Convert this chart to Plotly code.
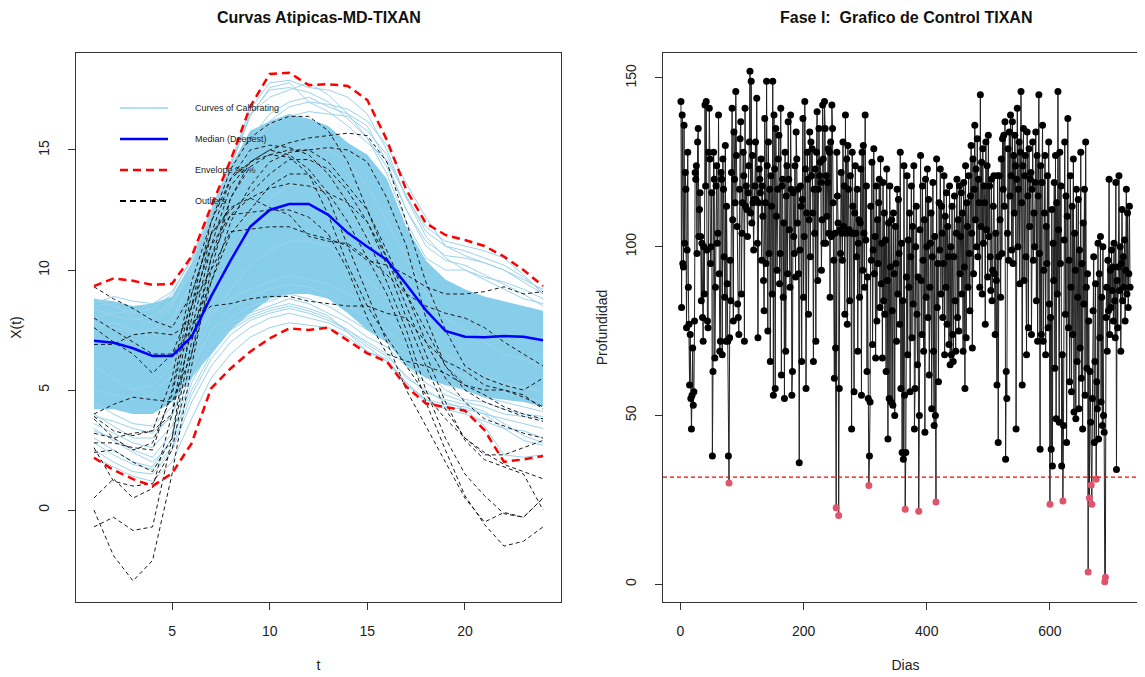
import numpy as np
import plotly.graph_objects as go

# ---------------- left panel: functional outliers ----------------
t = list(range(1, 25))

median_curve = [7.05, 6.97, 6.74, 6.42, 6.42, 7.22, 8.9, 10.4, 11.8, 12.5, 12.75, 12.75,
                12.3, 11.55, 10.97, 10.42, 9.4, 8.33, 7.46, 7.22, 7.2, 7.25, 7.22, 7.07]
env_upper = [9.33, 9.65, 9.55, 9.38, 9.43, 10.56, 12.64, 14.58, 16.8, 18.17, 18.22, 17.7,
             17.74, 17.67, 17.08, 15.42, 13.33, 11.95, 11.46, 11.25, 11.0, 10.56, 10.0, 9.33]
env_lower = [2.18, 1.67, 1.29, 1.0, 1.53, 2.78, 5.07, 5.9, 6.6, 7.15, 7.57, 7.5,
             7.6, 7.08, 6.53, 6.18, 5.14, 4.44, 4.28, 4.14, 3.33, 2.01, 2.11, 2.25]

# dense core of the calibration curves
core_upper = [8.8, 8.7, 8.5, 8.6, 8.9, 10.3, 12.4, 14.3, 15.8, 16.2, 16.5, 16.3,
              16.0, 15.3, 14.8, 13.8, 11.8, 10.4, 9.6, 9.2, 8.9, 8.7, 8.5, 8.3]
core_lower = [4.2, 4.2, 4.0, 4.0, 4.5, 5.5, 6.5, 7.5, 8.2, 8.8, 9.0, 9.0,
              8.8, 8.2, 7.5, 7.0, 6.0, 5.5, 5.2, 5.0, 4.7, 4.6, 4.5, 4.3]

calib_curves = [
    [8.8, 8.5, 8.2, 8.4, 9.0, 10.5, 12.5, 14.5, 16.7, 17.8, 17.9, 17.6, 17.5, 17.2, 16.5, 15.0, 13.0, 11.8, 11.2, 11.0, 10.8, 10.5, 9.8, 9.0],
    [8.5, 8.6, 8.0, 7.8, 8.5, 10.0, 12.3, 14.3, 16.5, 17.2, 17.5, 17.8, 17.3, 16.5, 15.5, 14.0, 12.0, 10.5, 10.0, 10.0, 9.7, 9.5, 9.2, 8.8],
    [7.5, 7.8, 7.5, 7.2, 7.8, 9.5, 12.0, 14.0, 15.5, 16.5, 17.0, 17.2, 16.8, 16.5, 16.0, 14.5, 12.5, 11.0, 10.4, 10.2, 9.8, 9.4, 9.0, 8.5],
    [3.0, 2.5, 2.0, 1.8, 3.0, 5.0, 6.5, 7.5, 8.0, 8.3, 8.5, 8.3, 8.0, 7.5, 7.0, 6.5, 5.5, 5.0, 4.5, 4.2, 4.0, 3.8, 3.6, 3.4],
    [3.3, 3.0, 2.5, 2.2, 3.2, 5.5, 7.0, 7.8, 8.2, 8.5, 8.8, 8.6, 8.2, 7.8, 7.2, 6.8, 6.0, 5.3, 4.8, 4.5, 4.3, 4.0, 3.9, 3.8],
    [2.5, 2.0, 1.6, 1.5, 2.5, 4.5, 6.0, 7.0, 7.6, 8.0, 8.2, 8.0, 7.8, 7.4, 6.8, 6.2, 5.2, 4.6, 4.2, 4.0, 3.7, 3.4, 3.3, 3.0],
    [4.0, 3.5, 3.0, 3.0, 4.0, 6.0, 7.5, 8.4, 8.9, 9.2, 9.4, 9.3, 9.0, 8.5, 8.0, 7.5, 6.8, 6.0, 5.3, 5.0, 4.7, 4.5, 4.3, 4.1],
    [3.6, 3.2, 2.8, 2.6, 3.5, 5.8, 7.5, 8.0, 8.5, 8.7, 9.0, 8.8, 8.5, 8.0, 7.5, 7.0, 6.5, 5.8, 5.0, 4.6, 4.5, 4.2, 4.0, 3.9],
    [6.0, 5.5, 5.0, 5.2, 6.0, 8.0, 10.0, 12.0, 13.5, 14.5, 15.0, 15.2, 15.0, 14.5, 13.5, 12.0, 10.5, 9.0, 8.0, 7.5, 7.0, 6.5, 6.3, 6.0],
    [8.0, 8.2, 8.3, 8.0, 8.6, 10.2, 12.4, 14.4, 16.5, 17.5, 17.6, 17.4, 17.0, 16.3, 15.5, 14.3, 12.5, 11.2, 10.6, 10.5, 10.3, 10.0, 9.5, 9.0],
    [4.5, 4.0, 3.6, 3.5, 4.3, 6.5, 8.5, 10.5, 12.0, 13.0, 13.5, 13.6, 13.3, 12.5, 11.5, 10.2, 8.8, 7.5, 6.5, 6.0, 5.6, 5.3, 5.1, 4.9],
    [2.2, 1.8, 1.4, 1.2, 2.0, 3.8, 5.5, 6.5, 7.2, 7.6, 7.8, 7.7, 7.6, 7.2, 6.6, 6.2, 5.3, 4.5, 4.3, 4.2, 3.5, 2.3, 2.2, 2.3],
    [5.0, 4.8, 4.6, 4.8, 5.6, 7.0, 8.2, 8.8, 9.2, 9.5, 9.8, 9.6, 9.4, 9.0, 8.6, 8.0, 7.3, 6.6, 6.0, 5.6, 5.4, 5.2, 5.1, 5.0],
    [7.8, 7.6, 7.4, 7.5, 8.0, 9.4, 11.8, 13.8, 15.2, 16.0, 16.4, 16.6, 16.5, 16.4, 15.8, 14.8, 13.0, 11.4, 10.5, 10.0, 9.6, 9.2, 8.8, 8.6],
    [2.8, 2.3, 1.9, 1.7, 2.6, 4.8, 6.3, 7.3, 7.9, 8.2, 8.4, 8.2, 7.9, 7.5, 6.9, 6.4, 5.6, 4.9, 4.6, 4.4, 4.1, 3.6, 3.1, 2.8],
    [3.9, 3.7, 3.4, 3.2, 3.9, 6.2, 8.0, 9.2, 10.2, 10.8, 11.2, 11.2, 11.0, 10.4, 9.6, 8.8, 7.8, 6.8, 6.0, 5.5, 5.2, 4.9, 4.7, 4.5],
    [8.4, 8.1, 7.9, 8.1, 8.7, 9.9, 11.6, 13.4, 15.0, 16.2, 16.8, 17.0, 16.9, 16.7, 16.2, 15.2, 13.6, 12.2, 11.0, 10.6, 10.3, 10.0, 9.6, 9.2],
    [8.6, 8.9, 8.7, 8.6, 9.1, 10.4, 12.4, 14.3, 16.4, 17.6, 17.8, 17.0, 16.6, 16.0, 15.3, 14.6, 13.1, 11.6, 11.0, 10.8, 10.5, 10.2, 9.7, 9.1],
    [3.4, 2.9, 2.4, 2.0, 2.8, 5.3, 6.8, 7.6, 8.1, 8.4, 8.6, 8.4, 8.1, 7.4, 6.6, 6.3, 5.3, 4.6, 4.4, 4.3, 4.0, 3.4, 2.9, 2.7],
]

outlier_curves = [
    [0.0, -1.9, -2.95, -2.1, 1.5, 6.0, 10.0, 13.0, 14.5, 15.0, 14.8, 14.2, 13.2, 12.0, 10.5, 9.0, 7.0, 4.5, 2.5, 0.6, -0.6, -1.5, -1.3, -0.7],
    [-0.7, -0.3, -0.85, -0.7, 3.0, 8.0, 11.5, 13.8, 15.0, 15.2, 15.1, 14.8, 14.0, 12.8, 11.3, 9.5, 7.5, 5.0, 3.0, 1.5, 0.6, -0.15, -0.3, 0.5],
    [0.5, 1.3, 0.5, 0.9, 4.0, 8.5, 12.0, 14.2, 15.5, 16.1, 16.4, 16.4, 15.8, 14.5, 12.5, 10.5, 8.5, 6.5, 4.5, 2.9, 2.1, 1.8, 1.5, 0.0],
    [2.8, 2.8, 2.6, 2.5, 5.0, 9.0, 11.5, 12.5, 13.2, 14.0, 14.6, 14.6, 14.2, 13.3, 12.0, 10.2, 8.0, 6.0, 4.2, 3.0, 2.3, 2.3, 2.6, 2.9],
    [3.2, 3.0, 3.2, 3.3, 5.5, 9.5, 12.0, 13.8, 14.5, 14.8, 15.0, 15.0, 14.5, 13.5, 12.5, 10.8, 9.0, 7.0, 5.5, 4.5, 3.8, 3.5, 3.2, 3.0],
    [3.8, 3.0, 2.5, 2.8, 4.8, 8.5, 11.0, 12.3, 13.0, 13.4, 13.6, 13.5, 13.2, 12.8, 12.0, 10.5, 9.0, 7.5, 6.0, 5.0, 4.5, 4.2, 3.9, 3.7],
    [9.3, 8.8, 8.4, 7.9, 7.6, 9.0, 11.5, 12.6, 13.0, 12.6, 12.3, 11.4, 11.2, 11.1, 10.5, 9.8, 9.0, 8.5, 8.2, 8.0, 7.6, 7.0, 6.5, 6.0],
    [7.6, 7.0, 6.5, 5.7, 6.5, 8.5, 10.0, 11.6, 11.7, 11.8, 11.8, 11.5, 11.3, 11.0, 10.4, 10.2, 9.8, 9.3, 9.0, 9.0, 9.1, 9.3, 9.0, 9.1],
    [6.9, 6.9, 7.3, 7.4, 7.3, 7.8, 8.5, 8.6, 8.8, 8.9, 8.9, 8.7, 8.6, 8.5, 8.5, 8.2, 8.0, 7.0, 6.2, 5.8, 5.2, 5.0, 4.7, 4.3],
    [4.0, 4.4, 4.7, 4.6, 4.5, 6.5, 9.5, 12.0, 13.5, 14.5, 14.9, 15.0, 15.1, 15.0, 14.5, 13.0, 11.0, 8.0, 6.0, 5.2, 5.0, 5.0, 4.8, 4.2],
    [2.4, 2.5, 2.0, 1.6, 3.0, 7.0, 10.5, 12.3, 12.4, 12.5, 12.5, 12.2, 11.5, 10.0, 8.0, 6.5, 6.2, 6.0, 5.7, 5.2, 4.8, 4.3, 4.0, 3.8],
    [3.9, 3.3, 3.1, 3.3, 4.0, 7.5, 11.0, 13.5, 14.5, 15.0, 15.3, 15.5, 15.6, 15.7, 15.6, 14.5, 12.0, 9.5, 7.5, 6.0, 5.5, 5.2, 5.0, 5.5],
    [2.6, 1.2, 1.0, 1.1, 2.5, 6.5, 10.5, 13.0, 14.3, 14.8, 14.7, 14.0, 12.3, 10.2, 8.5, 7.2, 6.0, 4.8, 3.8, 3.0, 2.4, 1.9, 1.6, 1.3],
    [8.0, 7.5, 7.0, 6.5, 6.5, 7.5, 9.5, 11.5, 12.5, 13.5, 14.0, 14.0, 13.0, 11.0, 9.0, 7.0, 5.0, 3.5, 2.0, 0.5, -0.5, -0.1, -0.3, 0.5],
]

legend_labels = ["Curves of Calibrating", "Median (Deepest)", "Envelope 96 %", "Outliers"]
legend_colors = ["#9BD3EC", "#0000FF", "#FF0000", "#000000"]
legend_dash = ["solid", "solid", "8px,5px", "6px,4px"]
legend_width = [1.5, 2.5, 2.5, 2]

# ---------------- right panel: control chart ----------------
profundidad = [
    143, 82, 139, 95, 94, 136, 101, 122, 117, 76,
    99, 128, 88, 77, 59, 74, 55, 46, 56, 70,
    53, 57, 78, 122, 120, 124, 98, 131, 135, 103,
    111, 116, 103, 84, 101, 79, 72, 100, 86, 142,
    118, 143, 99, 78, 76, 128, 141, 126, 95, 100,
    116, 38, 63, 128, 120, 67, 88, 118, 124, 101,
    104, 139, 92, 69, 72, 122, 120, 68, 126, 117,
    97, 85, 130, 72, 112, 89, 72, 38, 30, 73,
    96, 84, 122, 141, 108, 78, 134, 120, 113, 146,
    127, 106, 83, 79, 74, 117, 132, 137, 86, 104,
    113, 128, 121, 72, 141, 112, 118, 111, 103, 116,
    124, 131, 152, 110, 149, 107, 127, 113, 99, 114,
    118, 131, 114, 144, 101, 73, 113, 123, 120, 116,
    126, 96, 118, 109, 90, 81, 138, 113, 95, 149,
    124, 75, 131, 98, 117, 66, 121, 112, 86, 149,
    56, 139, 123, 58, 135, 109, 93, 117, 126, 133,
    89, 98, 141, 62, 118, 120, 85, 107, 55, 128,
    69, 115, 124, 92, 137, 120, 105, 88, 139, 117,
    56, 63, 116, 103, 98, 124, 91, 134, 126, 107,
    117, 92, 36, 99, 118, 112, 66, 114, 138, 85,
    103, 143, 123, 58, 110, 128, 120, 80, 108, 134,
    97, 131, 121, 129, 110, 66, 117, 104, 123, 72,
    128, 140, 90, 117, 135, 121, 125, 119, 93, 108,
    142, 126, 101, 143, 135, 101, 121, 109, 119, 129,
    104, 128, 85, 131, 103, 142, 135, 113, 96, 61,
    104, 70, 22.6, 128, 115, 107, 20.3, 58, 105, 98,
    122, 104, 96, 131, 106, 118, 80, 139, 104, 126,
    77, 130, 117, 105, 84, 121, 104, 46, 128, 112,
    104, 57, 110, 124, 104, 97, 117, 69, 101, 108,
    85, 107, 123, 56, 128, 93, 130, 104, 88, 139,
    102, 118, 63, 91, 55, 29.2, 38, 54, 112, 96,
    125, 71, 99, 129, 92, 103, 67, 118, 78, 108,
    95, 113, 120, 82, 126, 89, 101, 67, 119, 84,
    110, 80, 102, 63, 123, 90, 43, 107, 55, 118,
    94, 54, 108, 81, 53, 110, 92, 50, 106, 95,
    72, 117, 86, 114, 98, 77, 128, 58, 101, 39,
    84, 37, 124, 56, 22.2, 39, 91, 121, 68, 102,
    88, 110, 57, 97, 118, 73, 106, 83, 124, 46,
    58, 100, 112, 80, 65, 91, 21.6, 50, 105, 127,
    90, 74, 118, 96, 69, 108, 45, 120, 85, 100,
    123, 79, 114, 62, 88, 101, 110, 52, 97, 119,
    69, 47, 103, 50, 24.3, 126, 82, 95, 60, 113,
    99, 123, 86, 112, 104, 79, 95, 121, 68, 109,
    88, 116, 77, 106, 97, 71, 118, 65, 100, 68,
    112, 74, 66, 97, 115, 84, 69, 104, 120, 79,
    108, 75, 118, 92, 103, 116, 86, 110, 69, 119,
    94, 58, 124, 73, 113, 106, 88, 121, 98, 81,
    115, 130, 104, 70, 126, 92, 117, 136, 108, 123,
    100, 132, 97, 120, 113, 88, 145, 106, 125, 86,
    129, 101, 118, 113, 77, 131, 105, 124, 91, 133,
    103, 118, 97, 87, 120, 84, 93, 112, 121, 92,
    74, 104, 90, 59, 121, 42, 97, 121, 108, 85,
    126, 98, 132, 117, 133, 112, 137, 37, 63, 55,
    104, 129, 96, 134, 115, 139, 121, 99, 137, 95,
    127, 110, 133, 124, 46, 120, 141, 100, 117, 131,
    89, 128, 146, 113, 59, 124, 135, 90, 121, 127,
    97, 68, 134, 115, 76, 129, 106, 120, 122, 74,
    117, 131, 96, 110, 100, 119, 134, 84, 127, 72,
    115, 145, 98, 40, 124, 74, 119, 136, 72, 93,
    110, 127, 68, 106, 95, 121, 76, 131, 83, 23.7,
    79, 40, 111, 35, 101, 90, 119, 64, 127, 49,
    113, 86, 146, 105, 48, 128, 95, 118, 35, 68,
    24.6, 47, 102, 131, 80, 115, 42, 109, 138, 76,
    96, 60, 121, 88, 57, 112, 74, 126, 51, 104,
    93, 49, 117, 66, 85, 114, 52, 99, 70, 128,
    61, 95, 46, 107, 83, 117, 56, 131, 88, 64,
    92, 3.6, 78, 25.5, 63, 48, 29.4, 23.7, 55, 81,
    97, 42, 66, 89, 31.1, 60, 52, 101, 43, 92,
    73, 103, 54, 85, 47, 100, 50, 45, 0.7, 2.0,
    79, 88, 69, 96, 81, 120, 74, 93, 82, 99,
    87, 94, 78, 101, 84, 73, 119, 34, 90, 76,
    94, 121, 87, 100, 69, 95, 111, 84, 97, 88,
    102, 78, 93, 117, 86, 110, 82, 92, 112, 88,
]
dias = np.arange(1, len(profundidad) + 1)
limite = 31.7

W, H = 1145, 677
OFF = 8  # page margin of the html body
FONT = "Liberation Sans, Arial, sans-serif"

fig = go.Figure()

# core band of calibration curves
fig.add_trace(go.Scatter(x=t, y=core_lower, mode="lines", line=dict(width=0),
                         hoverinfo="skip", xaxis="x", yaxis="y"))
fig.add_trace(go.Scatter(x=t, y=core_upper, mode="lines", line=dict(width=0),
                         fill="tonexty", fillcolor="#87CEEB", hoverinfo="skip",
                         xaxis="x", yaxis="y"))
for c in calib_curves:
    fig.add_trace(go.Scatter(x=t, y=c, mode="lines", line=dict(color="#9BD3EC", width=1),
                             xaxis="x", yaxis="y"))
for c in outlier_curves:
    fig.add_trace(go.Scatter(x=t, y=c, mode="lines",
                             line=dict(color="#1a1a1a", width=1, dash="4px,3px"),
                             xaxis="x", yaxis="y"))
for env in (env_upper, env_lower):
    fig.add_trace(go.Scatter(x=t, y=env, mode="lines",
                             line=dict(color="#FF0000", width=2.5, dash="8px,5px"),
                             xaxis="x", yaxis="y"))
fig.add_trace(go.Scatter(x=t, y=median_curve, mode="lines",
                         line=dict(color="#0000FF", width=2.5), xaxis="x", yaxis="y"))

# control chart
point_colors = ["#DF536B" if v < limite else "#000000" for v in profundidad]
fig.add_trace(go.Scatter(x=dias, y=profundidad, mode="lines",
                         line=dict(color="#222222", width=1), xaxis="x2", yaxis="y2"))
fig.add_trace(go.Scatter(x=dias, y=profundidad, mode="markers",
                         marker=dict(color=point_colors, size=7), xaxis="x2", yaxis="y2"))

# manual legend (R style, no box)
shapes, annotations = [], []
for i, lab in enumerate(legend_labels):
    yy = 0.900 - i * 0.0565
    shapes.append(dict(type="line", xref="x domain", yref="y domain",
                       x0=0.0907, x1=0.1897, y0=yy, y1=yy,
                       line=dict(color=legend_colors[i], width=legend_width[i], dash=legend_dash[i])))
    annotations.append(dict(text=lab, xref="x domain", yref="y domain", x=0.241, y=yy,
                            xanchor="left", yanchor="middle", showarrow=False,
                            font=dict(size=9, color="#222")))

shapes.append(dict(type="line", xref="x2 domain", yref="y2", x0=0, x1=1, y0=limite, y1=limite,
                   line=dict(color="#FF0000", width=1.2, dash="4px,3px")))

titles = [("Curvas Atipicas-MD-TIXAN", "x domain"), ("Fase I:  Grafico de Control TIXAN", "x2 domain")]
for txt, ref in titles:
    annotations.append(dict(text="<b>%s</b>" % txt, xref=ref, yref="paper", x=0.5,
                            y=1 - (17 - OFF) / H, xanchor="center", yanchor="middle", showarrow=False,
                            font=dict(size=16, color="#111")))

axis_common = dict(showgrid=False, zeroline=False, showline=True, linecolor="#333", linewidth=1,
                   ticks="outside", ticklen=7, tickcolor="#333", tickwidth=1,
                   tickfont=dict(size=14, color="#222"), automargin=False)


def px_x(a, b):
    return [(a - OFF) / W, (b - OFF) / W]


dom_y = [(H - (602 - OFF)) / H, (H - (53 - OFF)) / H]
fig.update_layout(
    width=W, height=H, template="none", showlegend=False,
    margin=dict(l=0, r=0, t=0, b=0),
    paper_bgcolor="white", plot_bgcolor="white",
    font=dict(family=FONT, size=14, color="#222"),
    xaxis=dict(axis_common, domain=px_x(76, 561), range=[0.08, 24.92], mirror=True,
               tickvals=[5, 10, 15, 20], anchor="y", ticklabelstandoff=9,
               title=dict(text="t", standoff=22, font=dict(size=14))),
    yaxis=dict(axis_common, domain=dom_y, range=[-3.83, 19.04], mirror=True,
               tickvals=[0, 5, 10, 15], tickangle=-90, anchor="x", ticklabelstandoff=13,
               title=dict(text="X(t)", standoff=12, font=dict(size=14))),
    xaxis2=dict(axis_common, domain=px_x(663, 1148), range=[-28.16, 759.16], mirror=True,
                tickvals=[0, 200, 400, 600], anchor="y2", ticklabelstandoff=9,
                title=dict(text="Dias", standoff=22, font=dict(size=14))),
    yaxis2=dict(axis_common, domain=dom_y, range=[-5.3, 157.4],
                tickvals=[0, 50, 100, 150], tickangle=-90, anchor="x2", ticklabelstandoff=13,
                title=dict(text="Profundidad", standoff=12, font=dict(size=14))),
    shapes=shapes, annotations=annotations,
)

fig.write_html("out.html")
